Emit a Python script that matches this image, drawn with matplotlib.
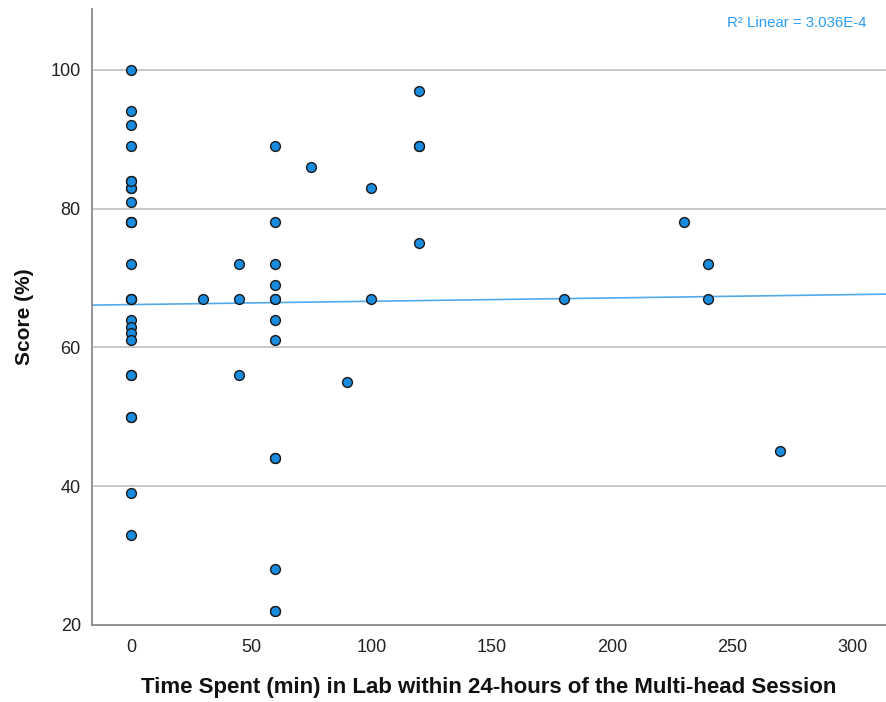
import matplotlib
matplotlib.use("Agg")
import matplotlib.pyplot as plt
import numpy as np

plt.rcParams['font.family'] = ['Liberation Sans', 'DejaVu Sans']

# Data (time in lab, minutes; score %)
time_min = [0, 0, 0, 0, 0, 0, 0, 0, 0, 0, 0, 0, 0, 0, 0, 0, 0, 0, 0, 0, 0, 0, 0, 0, 0, 0,
            30, 45, 45, 45,
            60, 60, 60, 60, 60, 60, 60, 60, 60, 60, 60, 60, 60,
            75, 90, 100, 100, 120, 120, 120, 120, 180, 230, 240, 240, 270]
score = [100, 94, 92, 89, 84, 83, 83, 81, 78, 78, 72, 67, 67, 67, 64, 63, 62, 61, 56, 56, 50, 50, 39, 33, 84, 78,
         67, 72, 67, 56,
         89, 78, 72, 69, 67, 67, 64, 61, 44, 44, 28, 22, 22,
         86, 55, 83, 67, 97, 89, 89, 75, 67, 78, 72, 67, 45]

# Linear fit line as shown (intercept, slope)
fit_intercept = 66.16
fit_slope = 0.0048
r2_label = "R\u00b2 Linear = 3.036E-4"

x_ticks = [0, 50, 100, 150, 200, 250, 300]
y_ticks = [20, 40, 60, 80, 100]
x_label = "Time Spent (min) in Lab within 24-hours of the Multi-head Session"
y_label = "Score (%)"

fig = plt.figure(figsize=(8.86, 7.02), dpi=100)
ax = fig.add_axes([0.1038, 0.1097, 0.8962, 0.877])
xmin, xmax = -16.2, 314
ax.set_xlim(xmin, xmax)
ax.set_ylim(20, 108.7)

for yt in y_ticks[1:]:
    ax.axhline(yt, color='#c4c4c4', lw=1.3, zorder=0)

xs = np.array([xmin, xmax])
ax.plot(xs, fit_intercept + fit_slope * xs, color='#52a9ec', lw=1.2, zorder=2)

ax.scatter(time_min, score, s=50, facecolor='#1a8ce0', edgecolor='#1a1a1a',
           linewidths=1.0, zorder=3)

ax.text(0.975, 0.989, r2_label, transform=ax.transAxes, ha='right', va='top',
        color='#2a9df4', fontsize=10.8)

ax.set_xticks(x_ticks)
ax.set_yticks(y_ticks)
ax.tick_params(axis='both', length=0, labelsize=13, colors='#222222', pad=8)
ax.tick_params(axis='x', pad=10)

for s in ['top', 'right']:
    ax.spines[s].set_visible(False)
for s in ['left', 'bottom']:
    ax.spines[s].set_color('#8a8a8a')
    ax.spines[s].set_linewidth(1.3)

ax.set_xlabel(x_label, fontsize=16, fontweight='bold', labelpad=15, color='#111111')
ax.set_ylabel(y_label, fontsize=15, fontweight='bold', labelpad=12, color='#111111')

fig.savefig('out.png', dpi=100, facecolor='white')
